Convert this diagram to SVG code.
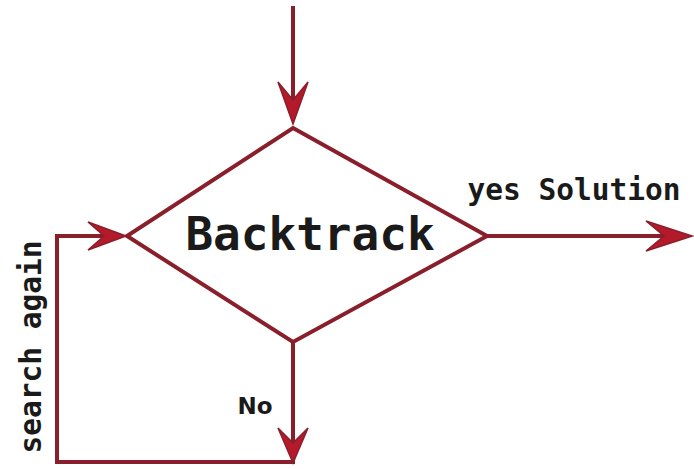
<svg xmlns="http://www.w3.org/2000/svg" width="694" height="469" viewBox="0 0 694 469">
<style>
.ln{fill:none;stroke:#8a1f2c;stroke-width:4;stroke-linejoin:miter}
.ah{fill:#b51a2b;stroke:#8a1f2c;stroke-width:1.5}
.t{font-family:"DejaVu Sans Mono",monospace;font-weight:bold;fill:#1a1a1a}
</style>
<rect width="694" height="469" fill="#ffffff"/>
<g id="connectors">
<line class="ln" x1="293" y1="6" x2="293" y2="118"/>
<path class="ah" d="M293,124 L278,82 L293,100 L308,82 Z"/>
<line class="ln" x1="487" y1="236" x2="684" y2="236"/>
<path class="ah" d="M692,236 L646,221 L664,236 L646,251 Z"/>
<polyline class="ln" points="293,342 293,462 57,462 57,236 118,236"/>
<path class="ah" d="M126,236 L88,222 L104,236 L88,250 Z"/>
<path class="ah" d="M293,463 L278,428 L293,443 L308,428 Z"/>
</g>
<g id="backtrack">
<polygon class="ln" points="293,128 487,236 293,342 127,236"/>
<text class="t" x="310" y="250" font-size="46" text-anchor="middle">Backtrack</text>
</g>
<g id="labels">
<text class="t" x="574" y="200" font-size="29.5" text-anchor="middle">yes Solution</text>
<text x="255" y="414" font-size="23" font-family="DejaVu Sans, sans-serif" font-weight="bold" fill="#1a1a1a" text-anchor="middle">No</text>
<text class="t" font-size="29.5" text-anchor="middle" transform="translate(41,347) rotate(-90)">search again</text>
</g>
</svg>
